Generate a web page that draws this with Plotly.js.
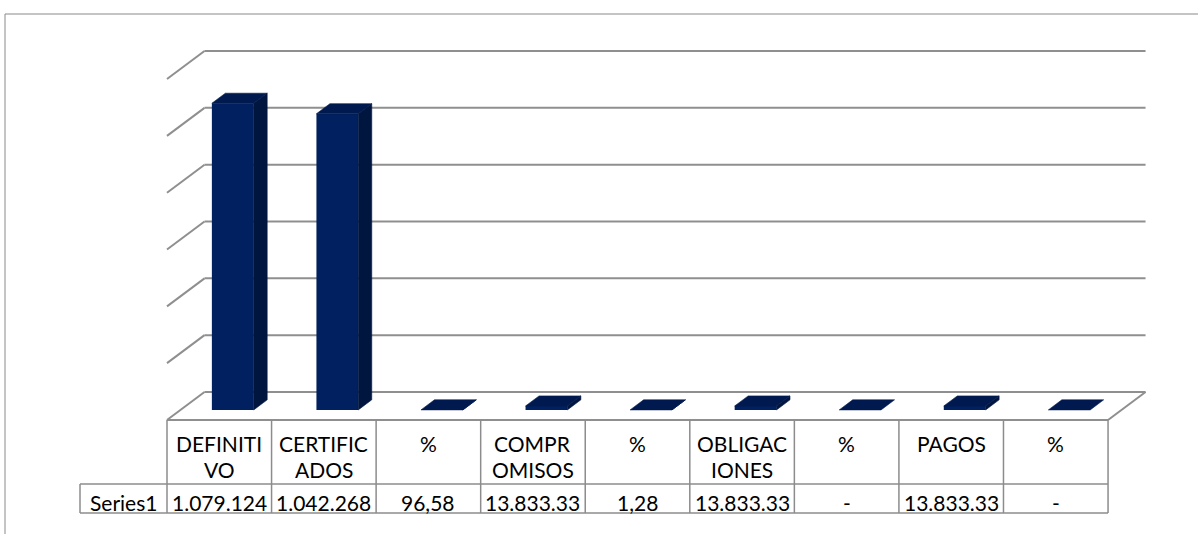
<!DOCTYPE html>
<html><head><meta charset="utf-8">
<script src="https://cdn.plot.ly/plotly-3.0.1.min.js"></script>
<style>html,body{margin:0;padding:0;background:#fff}#chart{width:1198px;height:534px}</style>
</head><body><div id="chart"></div>
<script>
// ---- data ----
const categories = ['DEFINITIVO', 'CERTIFICADOS', '%', 'COMPROMISOS', '%', 'OBLIGACIONES', '%', 'PAGOS', '%'];
const headerLabels = ['DEFINITI<br>VO', 'CERTIFIC<br>ADOS', '%', 'COMPR<br>OMISOS', '%', 'OBLIGAC<br>IONES', '%', 'PAGOS', '%'];
const values = [1079124, 1042268, 96.58, 13833.33, 1.28, 13833.33, 0, 13833.33, 0];
const valueLabels = ['1.079.124', '1.042.268', '96,58', '13.833.33', '1,28', '13.833.33', '-', '13.833.33', '-'];
const seriesName = 'Series1';
const gridValues = [0, 200000, 400000, 600000, 800000, 1000000, 1200000];

// ---- layout geometry ----
const W = 1198, H = 534;
const colX0px = 167, colWpx = 104.56, zeroPx = 420, unitsPerPx = 200000 / 56.83;
const depthPxX = 37.5, depthPxY = 28;
const DX = depthPxX / colWpx, DY = depthPxY * unitsPerPx;
const xRange = [-0.5 - colX0px / colWpx, -0.5 + (W - colX0px) / colWpx];
const yRange = [-(H - zeroPx) * unitsPerPx, zeroPx * unitsPerPx];
const n = categories.length;
const idx = categories.map((c, i) => i);
const barW = 0.40, d0 = 0.36, d1 = 0.72;
const FRONT = '#002060', SIDE = '#00163f', TOP = '#001a4f';
const gridColor = '#8f8f8f', tableColor = '#8c8c8c';
const FONT = 'Lato, "Open Sans", sans-serif';

function P(x, v, d) { return [x + d * DX, v + d * DY]; }
function py(px) { return 1 - px / H; }

const shapes = [];
// outer chart border
shapes.push({type: 'rect', xref: 'paper', yref: 'paper', x0: 5 / W, x1: 1.02, y0: -0.02, y1: py(14),
  line: {color: '#8a8a8a', width: 1}, fillcolor: 'rgba(0,0,0,0)', layer: 'below'});
// back wall gridlines + left wall diagonals
gridValues.forEach(v => {
  const a = P(-0.5, v, 1), b = P(n - 0.5, v, 1), c = P(-0.5, v, 0);
  shapes.push({type: 'line', xref: 'x', yref: 'y', x0: a[0], y0: a[1], x1: b[0], y1: b[1],
    line: {color: gridColor, width: 2}, layer: 'below'});
  shapes.push({type: 'line', xref: 'x', yref: 'y', x0: c[0], y0: c[1], x1: a[0], y1: a[1],
    line: {color: gridColor, width: 2}, layer: 'below'});
});
// floor right edge and front edge
{
  const a = P(n - 0.5, 0, 0), b = P(n - 0.5, 0, 1), c = P(-0.5, 0, 0);
  shapes.push({type: 'line', xref: 'x', yref: 'y', x0: a[0], y0: a[1], x1: b[0], y1: b[1],
    line: {color: gridColor, width: 2}, layer: 'below'});
  shapes.push({type: 'line', xref: 'x', yref: 'y', x0: c[0], y0: c[1], x1: a[0], y1: a[1],
    line: {color: gridColor, width: 2}, layer: 'below'});
}
// data table
const hTop = 420, hBot = 484, rBot = 513, labelLeftPx = 80;
const labelLeft = -0.5 - (colX0px - labelLeftPx) / colWpx;
[hBot, rBot].forEach(p => shapes.push({type: 'line', xref: 'x', yref: 'paper', x0: labelLeft, x1: n - 0.5,
  y0: py(p), y1: py(p), line: {color: tableColor, width: 1.5}}));
for (let j = 0; j <= n; j++) {
  shapes.push({type: 'line', xref: 'x', yref: 'paper', x0: j - 0.5, x1: j - 0.5, y0: py(hTop), y1: py(rBot),
    line: {color: tableColor, width: 1.5}});
}
shapes.push({type: 'line', xref: 'x', yref: 'paper', x0: labelLeft, x1: labelLeft, y0: py(hBot), y1: py(rBot),
  line: {color: tableColor, width: 1.5}});

// ---- traces ----
const traces = [];
traces.push({type: 'bar', x: idx.map(i => i + d0 * DX), y: values, base: values.map(() => d0 * DY),
  width: barW, marker: {color: FRONT, line: {width: 0}}, hoverinfo: 'skip', showlegend: false});
function poly(pts, color) {
  traces.push({type: 'scatter', mode: 'lines', x: pts.map(p => p[0]).concat([pts[0][0]]),
    y: pts.map(p => p[1]).concat([pts[0][1]]), fill: 'toself', fillcolor: color,
    line: {color: color, width: 0.6}, hoverinfo: 'skip', showlegend: false});
}
idx.forEach(i => {
  const v = values[i], xl = i - barW / 2, xr = i + barW / 2;
  if (v > 0) poly([P(xr, 0, d0), P(xr, 0, d1), P(xr, v, d1), P(xr, v, d0)], SIDE);
  poly([P(xl, v, d0), P(xr, v, d0), P(xr, v, d1), P(xl, v, d1)], TOP);
});

// ---- table text ----
const annotations = [];
const tf = {family: FONT, size: 21, color: '#000'};
idx.forEach(i => {
  const lines = headerLabels[i].split('<br>');
  lines.forEach((t, k) => annotations.push({xref: 'x', yref: 'paper', x: i, y: py(443 + k * 26),
    text: t, showarrow: false, xanchor: 'center', yanchor: 'middle', font: tf}));
  annotations.push({xref: 'x', yref: 'paper', x: i, y: py(502), text: valueLabels[i], showarrow: false,
    xanchor: 'center', yanchor: 'middle', font: tf});
});
annotations.push({xref: 'x', yref: 'paper', x: (labelLeft - 0.5) / 2, y: py(502), text: seriesName,
  showarrow: false, xanchor: 'center', yanchor: 'middle', font: tf});

const layout = {
  width: W, height: H, margin: {l: 0, r: 0, t: 0, b: 0, pad: 0},
  paper_bgcolor: '#ffffff', plot_bgcolor: '#ffffff', showlegend: false, barmode: 'overlay',
  xaxis: {range: xRange, visible: false, fixedrange: true},
  yaxis: {range: yRange, visible: false, fixedrange: true},
  shapes: shapes, annotations: annotations
};
Plotly.newPlot('chart', traces, layout, {staticPlot: true, displayModeBar: false});
</script></body></html>
